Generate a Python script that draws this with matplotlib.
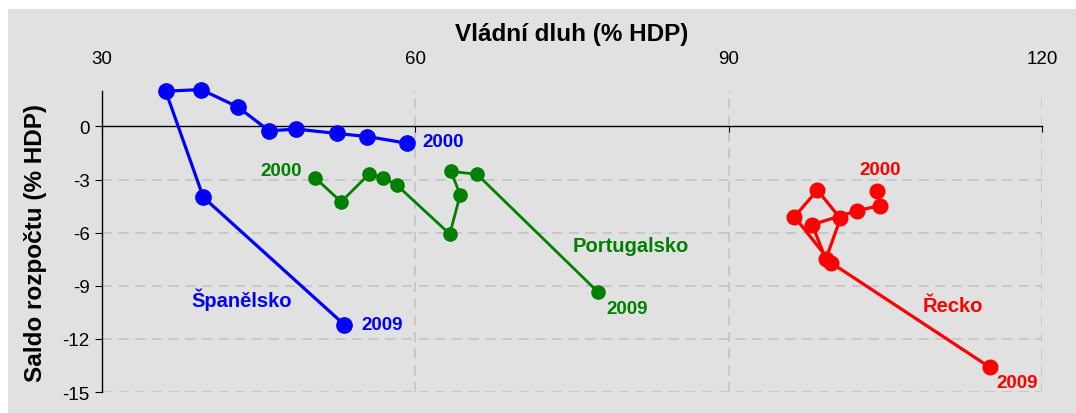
import matplotlib
matplotlib.use("Agg")
import matplotlib.pyplot as plt
from matplotlib.patches import Rectangle

plt.rcParams['font.family'] = ['Liberation Sans', 'DejaVu Sans']

# Data: (government debt % GDP, budget balance % GDP), years 2000..2009
years = list(range(2000, 2010))
spain_debt = [59.2, 55.4, 52.5, 48.6, 46.0, 43.0, 39.5, 36.1, 39.7, 53.2]
spain_bal = [-0.95, -0.57, -0.4, -0.15, -0.25, 1.1, 2.08, 1.99, -4.0, -11.2]
port_debt = [50.4, 52.9, 55.6, 56.9, 58.2, 63.3, 64.3, 63.4, 65.9, 77.5]
port_bal = [-2.9, -4.26, -2.67, -2.9, -3.3, -6.08, -3.85, -2.54, -2.7, -9.36]
greece_debt = [104.2, 104.5, 102.3, 98.0, 99.3, 100.7, 98.5, 96.3, 99.8, 115.0]
greece_bal = [-3.66, -4.47, -4.76, -5.55, -7.5, -5.2, -3.6, -5.1, -7.7, -13.6]

x_ticks = [30, 60, 90, 120]
y_ticks = [-15, -12, -9, -6, -3, 0]

W, H = 1076, 414
fig = plt.figure(figsize=(W / 100, H / 100), dpi=100, facecolor='white')
fig.patches.append(Rectangle((8 / W, 0), 1 - 8 / W, 1 - 10 / H, transform=fig.transFigure,
                             facecolor='#e1e1e1', edgecolor='none', zorder=-10))

ax = fig.add_axes([102 / W, 1 - 393 / H, (1042 - 102) / W, (393 - 92) / H])
ax.set_facecolor('none')
ax.set_xlim(30, 120)
ax.set_ylim(-15, 2)

# grid
gkw = dict(color='#c4c4c4', lw=1.2, ls=(0, (6, 4)), zorder=0)
for gx in x_ticks[1:]:
    ax.axvline(gx, **gkw)
for gy in y_ticks:
    if gy != 0:
        ax.axhline(gy, **gkw)

# spines
for s in ['top', 'right']:
    ax.spines[s].set_visible(False)
ax.spines['bottom'].set_position(('data', 0))
ax.spines['left'].set_bounds(-15, 2)
ax.spines['left'].set_linewidth(1.0)
ax.spines['bottom'].set_linewidth(1.0)

ax.set_xticks(x_ticks)
ax.set_yticks(y_ticks)
ax.set_xticklabels([str(v) for v in x_ticks])
ax.set_yticklabels([str(v) for v in y_ticks])
ax.tick_params(axis='x', bottom=True, top=False, labelbottom=False, labeltop=True,
               direction='out', length=4, labelsize=13.5, pad=13.5)
ax.tick_params(axis='y', direction='out', length=5, labelsize=13.5, pad=4)

ax.xaxis.set_label_position('top')
ax.set_xlabel('Vládní dluh (% HDP)', fontsize=17.5, fontweight='bold', labelpad=7)
ax.set_ylabel('Saldo rozpočtu (% HDP)', fontsize=17.5, fontweight='bold', labelpad=11)

blue, green, red = '#0000ff', '#008000', '#ff0000'
ax.plot(spain_debt, spain_bal, '-o', color=blue, lw=2.3, ms=11, zorder=3, clip_on=False)
ax.plot(port_debt, port_bal, '-o', color=green, lw=2.0, ms=9.5, zorder=3, clip_on=False)
ax.plot(greece_debt, greece_bal, '-o', color=red, lw=2.3, ms=10.5, zorder=3, clip_on=False)

tkw = dict(fontsize=13.5, fontweight='bold', textcoords='offset pixels', va='center')
ax.annotate(str(years[0]), (spain_debt[0], spain_bal[0]), xytext=(15, 2), ha='left', color=blue, **tkw)
ax.annotate(str(years[-1]), (spain_debt[-1], spain_bal[-1]), xytext=(17, 0), ha='left', color=blue, **tkw)
ax.annotate(str(years[0]), (port_debt[0], port_bal[0]), xytext=(-13, 7), ha='right', color=green, **tkw)
ax.annotate(str(years[-1]), (port_debt[-1], port_bal[-1]), xytext=(8, -16), ha='left', color=green, **tkw)
ax.annotate(str(years[0]), (greece_debt[0], greece_bal[0]), xytext=(3, 22), ha='center', color=red, **tkw)
ax.annotate(str(years[-1]), (greece_debt[-1], greece_bal[-1]), xytext=(7, -15), ha='left', color=red, **tkw)

lkw = dict(fontsize=14.5, fontweight='bold', ha='center', va='center')
ax.text(43.4, -9.75, 'Španělsko', color=blue, **lkw)
ax.text(80.6, -6.75, 'Portugalsko', color=green, **lkw)
ax.text(111.5, -10.1, 'Řecko', color=red, **lkw)

fig.savefig('out.png', dpi=100, facecolor='white')
